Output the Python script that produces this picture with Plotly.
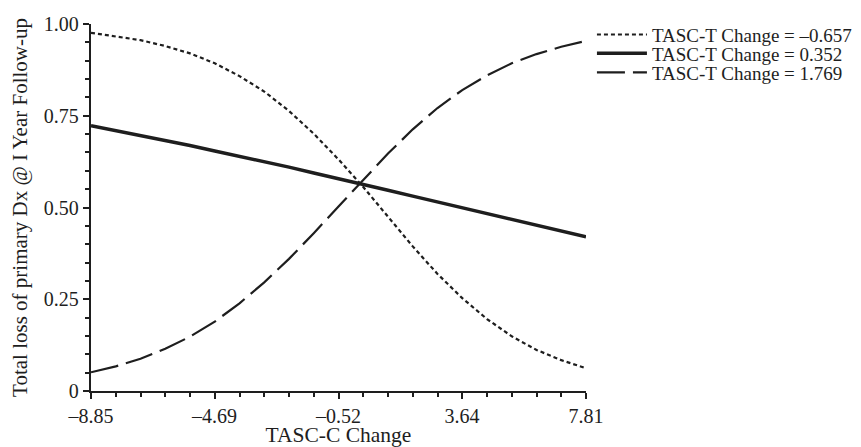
import plotly.graph_objects as go

# TASC-C change grid (major ticks and minor ticks)
tasc_c = [-8.85, -8.017, -7.184, -6.351, -5.518, -4.685, -3.852, -3.019, -2.186, -1.353,
          -0.52, 0.313, 1.146, 1.979, 2.812, 3.645, 4.478, 5.311, 6.144, 6.977, 7.81]

# Predicted probability for each TASC-T change level
p_neg0657 = [0.976, 0.967, 0.956, 0.940, 0.920, 0.893, 0.858, 0.816, 0.763, 0.701,
             0.631, 0.556, 0.474, 0.394, 0.319, 0.253, 0.196, 0.149, 0.112, 0.084, 0.062]
p_0352 = [0.723, 0.710, 0.697, 0.683, 0.669, 0.654, 0.640, 0.625, 0.610, 0.594,
          0.579, 0.563, 0.547, 0.531, 0.515, 0.499, 0.483, 0.467, 0.451, 0.436, 0.420]
p_1769 = [0.051, 0.067, 0.088, 0.115, 0.148, 0.189, 0.239, 0.296, 0.360, 0.430,
          0.503, 0.576, 0.647, 0.713, 0.771, 0.820, 0.860, 0.893, 0.918, 0.938, 0.954]

series_names = ["TASC-T Change = –0.657", "TASC-T Change = 0.352", "TASC-T Change = 1.769"]

x_tickvals = [-8.85, -4.69, -0.52, 3.64, 7.81]
x_ticktext = ["–8.85", "–4.69", "–0.52", "3.64", "7.81"]
y_tickvals = [0, 0.25, 0.5, 0.75, 1.0]
y_ticktext = ["0", "0.25", "0.50", "0.75", "1.00"]

FONT = "Liberation Serif"
INK = "#1e1e1e"

fig = go.Figure()
fig.add_trace(go.Scatter(x=tasc_c, y=p_neg0657, mode="lines", name=series_names[0],
                         legend="legend",
                         line=dict(color=INK, width=2.2, dash="4px,3px")))
fig.add_trace(go.Scatter(x=tasc_c, y=p_0352, mode="lines", name=series_names[1],
                         legend="legend2",
                         line=dict(color=INK, width=3.4)))
fig.add_trace(go.Scatter(x=tasc_c, y=p_1769, mode="lines", name=series_names[2],
                         legend="legend3",
                         line=dict(color=INK, width=2.2, dash="28px,8px")))

axis_common = dict(showline=True, linecolor=INK, linewidth=2.4, ticks="outside",
                   ticklen=6, tickwidth=2, tickcolor=INK, showgrid=False, zeroline=False,
                   automargin=False,
                   tickfont=dict(family=FONT, size=20, color=INK))

fig.update_xaxes(range=[-8.85, 7.81], tickvals=x_tickvals, ticktext=x_ticktext,
                 minor=dict(ticks="outside", ticklen=4, tickwidth=1.5, tickcolor=INK,
                            tick0=-8.85, dtick=0.833, showgrid=False),
                 title=dict(text="TASC-C Change",
                            font=dict(family=FONT, size=21.5, color=INK)),
                 **axis_common)
fig.update_yaxes(range=[0, 1.0], tickvals=y_tickvals, ticktext=y_ticktext,
                 minor=dict(ticks="outside", ticklen=4, tickwidth=1.5, tickcolor=INK,
                            tick0=0, dtick=0.05, showgrid=False),
                 title=dict(text="Total loss of primary Dx @ I Year Follow-up",
                            font=dict(family=FONT, size=21, color=INK)),
                 **axis_common)

leg_common = dict(xanchor="left", yanchor="middle", x=1.012, itemwidth=50,
                  font=dict(family=FONT, size=19, color=INK),
                  bgcolor="rgba(0,0,0,0)", borderwidth=0)

# page body adds an 8px offset, so the figure is placed to match the window
fig.update_layout(
    width=853, height=439,
    margin=dict(l=83, r=275, t=16, b=56, autoexpand=False),
    paper_bgcolor="white", plot_bgcolor="white",
    showlegend=True,
    legend=dict(y=0.971, **leg_common),
    legend2=dict(y=0.920, **leg_common),
    legend3=dict(y=0.868, **leg_common),
)

fig.write_html("out.html")
